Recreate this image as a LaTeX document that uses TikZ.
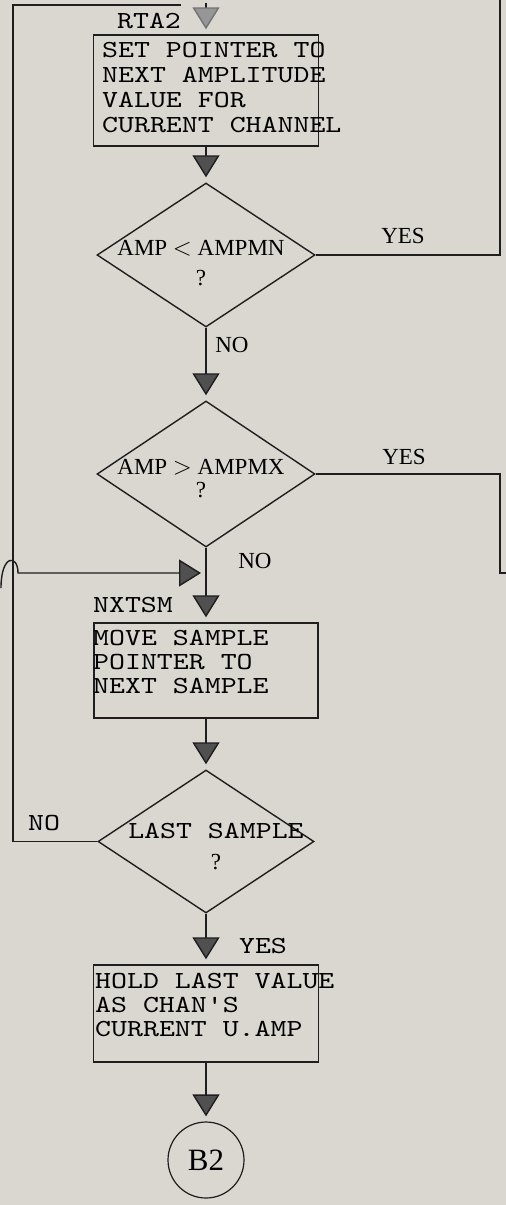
\documentclass[tikz,border=0pt]{standalone}
\usepackage{fontspec}
\usepackage{tikz}
\usetikzlibrary{arrows.meta, positioning, shapes.geometric}
\usepackage{xcolor}
\setmainfont{Liberation Serif}
\newfontfamily\typew{lmmono10-regular.otf}[FakeStretch=1.24]
\definecolor{paper}{RGB}{217,215,208}
\definecolor{ink}{RGB}{30,30,30}
\definecolor{tipgray}{RGB}{80,80,80}
\definecolor{tiplight}{RGB}{150,150,150}

\tikzset{
    wire/.style={draw=ink, line width=1.4pt},
    flow/.style={wire, shorten >=5pt, -{Triangle[length=22pt, width=27pt, fill=tipgray]}},
    flowlight/.style={wire, shorten >=5pt, -{Triangle[length=22pt, width=27pt, fill=tiplight, color=black!55]}},
    procbox/.style={draw=ink, line width=1.4pt, rectangle, inner sep=0pt},
    decision/.style={draw=ink, line width=1.4pt, diamond, inner sep=0pt},
    connector/.style={draw=ink, line width=1.2pt, circle, inner sep=0pt, minimum size=76pt,
        font=\fontsize{31}{31}\selectfont},
    boxtext/.style={anchor=north west, inner sep=0pt, align=left,
        font=\typew\fontsize{24.5}{25}\selectfont},
    dectext/.style={inner sep=0pt, align=center, font=\fontsize{23}{30}\selectfont},
    serlab/.style={inner sep=0pt, font=\fontsize{23}{23}\selectfont},
    ttlab/.style={inner sep=0pt, font=\typew\fontsize{24.5}{25}\selectfont}
}

\begin{document}
\begin{tikzpicture}[x=1pt, y=-1pt]
        % Fond
        \fill[paper] (0,0) rectangle (506,1205);
        \useasboundingbox (0,0) rectangle (506,1205);

        % --- Boites et decisions ---
        \node[procbox, minimum width=225pt, minimum height=111pt] (setptr) at (206,90.5) {};
        \node[decision, minimum width=218pt, minimum height=144pt] (ampmin) at (206,255) {};
        \node[decision, minimum width=218pt, minimum height=146pt] (ampmax) at (206,474) {};
        \node[procbox, minimum width=224pt, minimum height=95pt] (movesmp) at (206,670.5) {};
        \node[decision, minimum width=216pt, minimum height=143pt] (lastsmp) at (206,841.5) {};
        \node[procbox, minimum width=225pt, minimum height=97pt] (holdval) at (206,1013.5) {};
        \node[connector] (outb) at (206,1160) {B2};

        % --- Textes ---
        \node[boxtext] (setptrtxt) at (102,42) {SET POINTER TO\\NEXT AMPLITUDE\\VALUE FOR\\CURRENT CHANNEL};
        \node[boxtext, font=\typew\fontsize{24.5}{24}\selectfont] (movesmptxt) at (93,630) {MOVE SAMPLE\\POINTER TO\\NEXT SAMPLE};
        \node[boxtext, font=\typew\fontsize{24.5}{24}\selectfont] (holdvaltxt) at (95,973) {HOLD LAST VALUE\\AS CHAN'S\\CURRENT U.AMP};
        \node[dectext] (ampmintxt) at (201,263.5) {AMP $<$ AMPMN\\?};
        \node[dectext, font=\fontsize{23}{23}\selectfont] (ampmaxtxt) at (201,478.5) {AMP $>$ AMPMX\\?};
        \node[dectext, font=\fontsize{23}{31}\selectfont] (lastsmptxt) at (216,846.5) {{\typew\fontsize{24.5}{31}\selectfont LAST SAMPLE}\\?};

        % --- Etiquettes ---
        \node[ttlab] (rta) at (149,21) {RTA2};
        \node[ttlab] (nxt) at (133,605) {NXTSM};
        \node[serlab] (yesmin) at (403,236) {YES};
        \node[serlab] (yesmax) at (404,457) {YES};
        \node[serlab] (nomin) at (232,345) {NO};
        \node[serlab] (nomax) at (255,561) {NO};
        \node[ttlab] (nolast) at (44,823) {NO};
        \node[ttlab] (yeslast) at (263,946) {YES};

        % --- Points de passage ---
        \coordinate (topL) at (13,5);
        \coordinate (topR) at (181,5);
        \coordinate (rtain) at (206,3);
        \coordinate (upR) at (500,-2);
        \coordinate (downR) at (500,573);
        \coordinate (exitR) at (508,573);
        \coordinate (hopA) at (1,588);
        \coordinate (hopB) at (18,573);
        \coordinate (nxin) at (206,573);

        % --- Flux principal ---
        \draw[flowlight] (rtain) -- (setptr.north);
        \draw[flow] (setptr.south) -- (ampmin.north);
        \draw[flow] (ampmin.south) -- (ampmax.north);
        \draw[flow] (ampmax.south) -- (movesmp.north);
        \draw[flow] (movesmp.south) -- (lastsmp.north);
        \draw[flow] (lastsmp.south) -- (holdval.north);
        \draw[flow] (holdval.south) -- (outb.north);

        % --- Retours ---
        \draw[wire] (ampmin.east) -| (upR);
        \draw[wire] (ampmax.east) -| (downR) -- (exitR);
        \draw[wire] (lastsmp.west) -| (topL) -- (topR);
        \draw[flow] (hopA) .. controls (1,554) and (18,554) .. (hopB) -- (nxin);
    \end{tikzpicture}
\end{document}
